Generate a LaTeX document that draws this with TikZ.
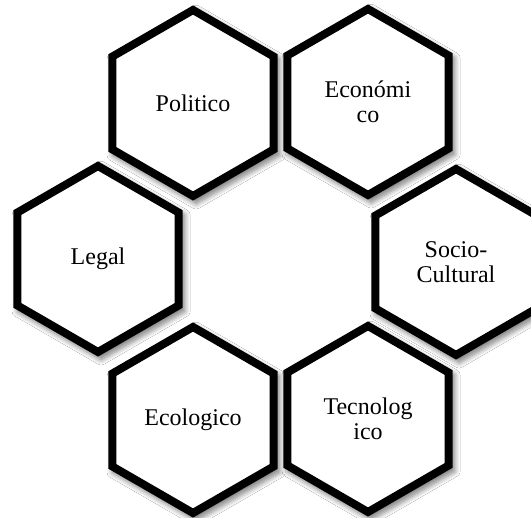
\documentclass[tikz,border=0pt]{standalone}
\usepackage{fontspec}
\setmainfont{Liberation Serif}
\usetikzlibrary{shapes.geometric,shadows.blur}
\tikzset{
  hexcell/.style={
    regular polygon, regular polygon sides=6, shape border rotate=30,
    minimum size=186pt, inner sep=0pt,
    draw=black, line width=8pt, fill=white, line join=miter,
    blur shadow={shadow xshift=3pt, shadow yshift=-4pt, shadow scale=1.04,
                 shadow blur radius=5pt, shadow blur steps=8, shadow opacity=50},
    align=center, font=\fontsize{24}{24.5}\selectfont
  }
}
\begin{document}
\begin{tikzpicture}[x=1pt,y=-1pt]
  \useasboundingbox (0,0) rectangle (531,518);
  \clip (0,0) rectangle (531,518);
  \fill[white] (0,0) rectangle (531,518);
  % six hexagonal cells arranged in a ring
  \node[hexcell] (pol) at (193,103) {Politico};
  \node[hexcell] (eco) at (368,102) {Económi\\co};
  \node[hexcell] (soc) at (456,262) {Socio-\\Cultural};
  \node[hexcell] (leg) at (98,259) {Legal};
  \node[hexcell] (ecl) at (193,420) {Ecologico};
  \node[hexcell] (tec) at (368,419) {Tecnolog\\ico};
\end{tikzpicture}
\end{document}
